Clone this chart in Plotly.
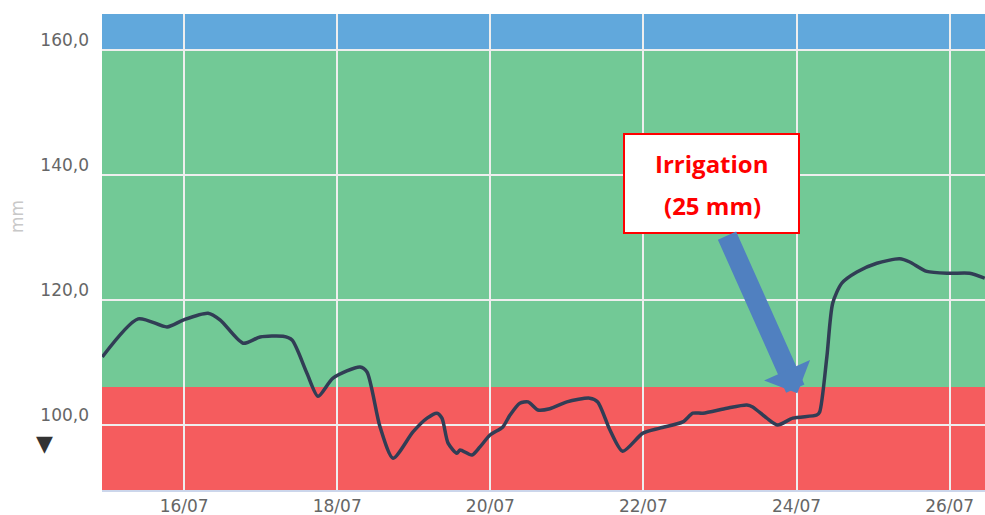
import plotly.graph_objects as go

# soil water reserve (mm)
times = [
    "2024-07-14 22:20", "2024-07-15 09:36", "2024-07-15 18:40", "2024-07-15 23:40",
    "2024-07-16 07:30", "2024-07-16 11:20", "2024-07-16 18:30", "2024-07-16 23:50",
    "2024-07-17 07:00", "2024-07-17 09:50", "2024-07-17 14:30", "2024-07-17 18:00",
    "2024-07-17 22:40", "2024-07-18 07:10", "2024-07-18 09:20", "2024-07-18 13:25",
    "2024-07-18 17:30", "2024-07-18 23:45", "2024-07-19 04:10", "2024-07-19 07:15",
    "2024-07-19 08:50", "2024-07-19 10:45", "2024-07-19 13:30", "2024-07-19 14:30",
    "2024-07-19 18:15", "2024-07-19 20:45", "2024-07-19 23:55", "2024-07-20 03:55",
    "2024-07-20 06:10", "2024-07-20 09:15", "2024-07-20 11:50", "2024-07-20 14:55",
    "2024-07-20 18:40", "2024-07-21 00:00", "2024-07-21 07:10", "2024-07-21 09:40",
    "2024-07-21 13:30", "2024-07-21 17:30", "2024-07-21 23:50", "2024-07-22 05:10",
    "2024-07-22 12:20", "2024-07-22 15:30", "2024-07-22 18:40", "2024-07-23 02:10",
    "2024-07-23 08:25", "2024-07-23 10:15", "2024-07-23 14:40", "2024-07-23 18:05",
    "2024-07-23 22:50", "2024-07-24 06:20", "2024-07-24 07:15", "2024-07-24 09:30",
    "2024-07-24 11:20", "2024-07-24 14:10", "2024-07-24 18:55", "2024-07-25 01:10",
    "2024-07-25 08:20", "2024-07-25 11:30", "2024-07-25 16:50", "2024-07-26 00:00",
    "2024-07-26 06:15", "2024-07-26 11:00",
]
reserve = [
    110.9, 117.0, 115.7, 116.8,
    117.9, 116.8, 113.1, 114.1,
    114.2, 113.6, 108.3, 104.6,
    107.5, 109.3, 108.5, 99.7,
    94.7, 98.9, 101.1, 101.9,
    101.1, 97.1, 95.5, 96.0,
    95.2, 96.5, 98.4, 99.7,
    101.6, 103.5, 103.7, 102.4,
    102.6, 103.7, 104.3, 103.7,
    99.2, 95.8, 98.7, 99.5,
    100.5, 101.9, 101.9, 102.7,
    103.2, 102.9, 101.1, 100.0,
    101.1, 101.6, 102.1, 110.9,
    119.5, 122.7, 124.5, 125.9,
    126.6, 126.1, 124.6, 124.3,
    124.3, 123.5,
]

# zone limits (mm)
y_min, y_max = 89.6, 165.8
stress_limit = 106.1
full_limit = 160.0
zone_colors = ["#f55c5e", "#72c996", "#61a8dc"]

x_range = ["2024-07-14 22:15", "2024-07-26 11:05"]
irrigation_time = "2024-07-24 00:15"
irrigation_level = 105.1
callout_lines = ["Irrigation", "(25 mm)"]

# plot area in pixels, used to place the loose labels
L, T, W, H = 102, 14, 883, 476


def px(x, y):
    return (x - L) / W, (T + H - y) / H


fig = go.Figure()

edges = [y_min, stress_limit, full_limit, y_max]
for i, c in enumerate(zone_colors):
    fig.add_shape(
        type="rect", xref="paper", yref="y",
        x0=0, x1=1, y0=edges[i], y1=edges[i + 1],
        fillcolor=c, line_width=0, layer="below",
    )

fig.add_trace(go.Scatter(
    x=times, y=reserve, mode="lines",
    line=dict(color="#313d55", width=3.5, shape="spline", smoothing=0.7),
    hoverinfo="skip", showlegend=False,
))

# callout box
x0, y0 = px(624, 233)
x1, y1 = px(799, 134)
fig.add_shape(
    type="rect", xref="paper", yref="paper", x0=x0, x1=x1, y0=y0, y1=y1,
    fillcolor="white", line=dict(color="#ff0000", width=2), layer="above",
)
fig.add_annotation(
    x=irrigation_time, y=irrigation_level, xref="x", yref="y",
    ax=-71, ay=-159, text="", showarrow=True,
    arrowhead=1, arrowsize=0.42, arrowwidth=20, arrowcolor="#5080c0",
)
for line, yc in zip(callout_lines, [163, 205]):
    lx, ly = px(712, yc)
    fig.add_annotation(
        x=lx, y=ly, xref="paper", yref="paper", xanchor="center", yanchor="middle",
        text="<b>" + line + "</b>", showarrow=False,
        font=dict(family="Open Sans", size=24, color="#ff0000"),
    )

mx, my = px(17, 217)
fig.add_annotation(
    x=mx, y=my, xref="paper", yref="paper", xanchor="center", yanchor="middle",
    text="mm", textangle=-90, showarrow=False,
    font=dict(family="DejaVu Sans", size=17, color="#c8c8c8"),
)
tx, ty = px(44, 443)
fig.add_annotation(
    x=tx, y=ty, xref="paper", yref="paper", xanchor="center", yanchor="middle",
    text="▼", showarrow=False,
    font=dict(family="DejaVu Sans", size=22, color="#333333"),
)

fig.update_layout(
    width=985, height=515,
    margin=dict(l=L, r=985 - L - W, t=T, b=515 - T - H),
    plot_bgcolor="white", paper_bgcolor="white",
    separators=", ",
    showlegend=False,
)

fig.update_xaxes(
    range=x_range, type="date",
    tick0="2024-07-16", dtick=2 * 86400000, tickformat="%d/%m",
    showgrid=True, gridcolor="#eeeeee", gridwidth=1.5,
    showline=True, linecolor="#ccd6eb", linewidth=2,
    ticks="", ticklabelstandoff=0,
    tickfont=dict(family="DejaVu Sans", size=17, color="#666666"),
    zeroline=False, automargin=False,
)
fig.update_yaxes(
    range=[y_min, y_max],
    tickvals=[100, 120, 140, 160], tickformat=".1f",
    showgrid=True, gridcolor="#eeeeee", gridwidth=1.5,
    showline=False, ticks="", ticklabelshift=-10, ticklabelstandoff=12,
    tickfont=dict(family="DejaVu Sans", size=17, color="#666666"),
    zeroline=False, automargin=False,
)

fig.write_html(
    "out.html",
    config={"displayModeBar": False},
    post_script="document.body.style.margin='0';",
)
